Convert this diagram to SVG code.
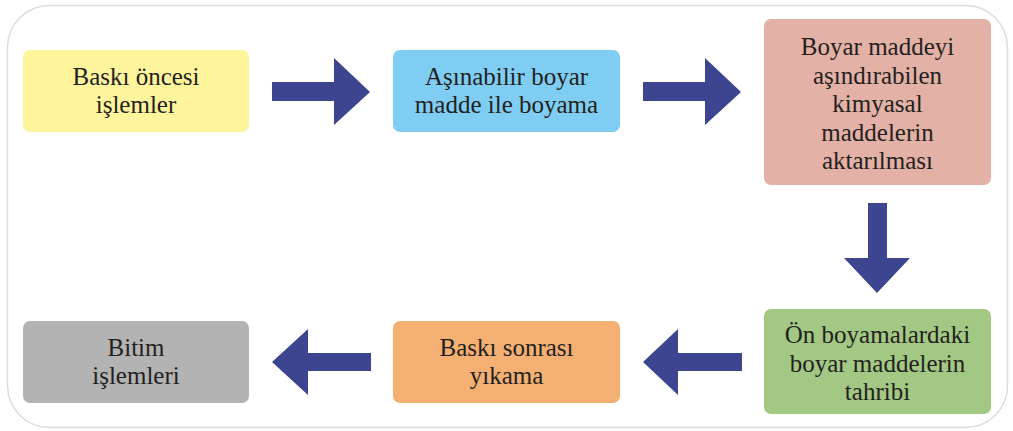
<svg xmlns="http://www.w3.org/2000/svg" width="1013" height="431" viewBox="0 0 1013 431">
<style>
.box{stroke:none}
.t{font-size:25px;fill:#231f20;text-anchor:middle}
.arr{fill:#3d4490}
</style>
<rect x="0" y="0" width="1013" height="431" fill="#ffffff"/>
<rect x="7.5" y="5.5" width="1000" height="422" rx="42" ry="42" fill="#ffffff" stroke="#dcdcdc" stroke-width="1.5"/>
<g id="n1"><rect class="box" x="23" y="50" width="226" height="82" rx="7" fill="#fef49b"/>
<text class="t" font-family="Times New Roman, serif" x="136" y="85">Baskı öncesi</text><text class="t" font-family="Times New Roman, serif" x="136" y="113">işlemler</text></g>
<g id="n2"><rect class="box" x="393" y="50" width="227" height="82" rx="7" fill="#7fcdf3"/>
<text class="t" font-family="Times New Roman, serif" x="506.5" y="85">Aşınabilir boyar</text><text class="t" font-family="Times New Roman, serif" x="506.5" y="113">madde ile boyama</text></g>
<g id="n3"><rect class="box" x="764" y="19" width="227" height="166" rx="7" fill="#e4b1a7"/>
<text class="t" font-family="Times New Roman, serif" x="877.5" y="55">Boyar maddeyi</text><text class="t" font-family="Times New Roman, serif" x="877.5" y="83.5">aşındırabilen</text><text class="t" font-family="Times New Roman, serif" x="877.5" y="112">kimyasal</text><text class="t" font-family="Times New Roman, serif" x="877.5" y="140.5">maddelerin</text><text class="t" font-family="Times New Roman, serif" x="877.5" y="169">aktarılması</text></g>
<g id="n4"><rect class="box" x="764" y="309" width="227" height="105" rx="7" fill="#a3c883"/>
<text class="t" font-family="Times New Roman, serif" x="877.5" y="343">Ön boyamalardaki</text><text class="t" font-family="Times New Roman, serif" x="877.5" y="371.5">boyar maddelerin</text><text class="t" font-family="Times New Roman, serif" x="877.5" y="400">tahribi</text></g>
<g id="n5"><rect class="box" x="393" y="321" width="227" height="82" rx="7" fill="#f4b073"/>
<text class="t" font-family="Times New Roman, serif" x="506.5" y="356">Baskı sonrası</text><text class="t" font-family="Times New Roman, serif" x="506.5" y="384">yıkama</text></g>
<g id="n6"><rect class="box" x="23" y="321" width="226" height="82" rx="7" fill="#b3b3b3"/>
<text class="t" font-family="Times New Roman, serif" x="136" y="356">Bitim</text><text class="t" font-family="Times New Roman, serif" x="136" y="384">işlemleri</text></g>
<g id="connectors">
<polygon class="arr" points="272,82 334,82 334,58 370,92 334,125 334,101 272,101"/>
<polygon class="arr" points="643,82 705,82 705,58 741,92 705,125 705,101 643,101"/>
<polygon class="arr" points="868,203 887,203 887,258 910,258 877,293 844,258 868,258"/>
<polygon class="arr" points="742,353 678,353 678,329 643,362 678,395 678,371 742,371"/>
<polygon class="arr" points="371,353 308,353 308,329 272,362 308,395 308,371 371,371"/>
</g>
</svg>
